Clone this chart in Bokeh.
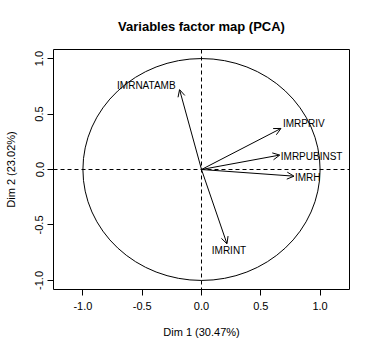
from bokeh.plotting import figure
from bokeh.models import (ColumnDataSource, Arrow, OpenHead, Span, FixedTicker,
                          Range1d)
from bokeh.core.properties import value
from bokeh.embed import file_html
from bokeh.resources import INLINE

# ---- data ----
variables = ["IMRNATAMB", "IMRPRIV", "IMRPUBINST", "IMRH", "IMRINT"]
dim1 = [-0.185, 0.67, 0.66, 0.78, 0.215]
dim2 = [0.72, 0.37, 0.13, -0.06, -0.67]
tick_values = [-1.0, -0.5, 0.0, 0.5, 1.0]
tick_labels = ["-1.0", "-0.5", "0.0", "0.5", "1.0"]
title_text = "Variables factor map (PCA)"
xlabel = "Dim 1 (30.47%)"
ylabel = "Dim 2 (23.02%)"

# label placement style (per variable)
label_align = {"IMRNATAMB": "right", "IMRPRIV": "left", "IMRPUBINST": "left",
               "IMRH": "left", "IMRINT": "center"}
label_dx = {"IMRNATAMB": -4, "IMRPRIV": 2, "IMRPUBINST": 1, "IMRH": 1, "IMRINT": 2}
label_dy = {"IMRNATAMB": -4, "IMRPRIV": -5, "IMRPUBINST": 1, "IMRH": 1, "IMRINT": 7}

FONT = "Liberation Sans"

src = ColumnDataSource(dict(
    name=variables, x=dim1, y=dim2,
    align=[label_align[v] for v in variables],
    dx=[label_dx[v] for v in variables],
    dy=[label_dy[v] for v in variables],
))

p = figure(width=381, height=357, output_backend="svg", toolbar_location=None,
           x_range=Range1d(-1.248, 1.248), y_range=Range1d(-1.0816, 1.0816),
           min_border_left=53, min_border_right=32, min_border_top=49,
           min_border_bottom=68)
p.background_fill_color = "white"
p.border_fill_color = "white"
p.outline_line_color = "black"
p.outline_line_width = 1
p.xgrid.visible = False
p.ygrid.visible = False

p.title.text = title_text
p.title.align = "center"
p.title.text_font = FONT
p.title.text_font_size = "13px"
p.title.text_font_style = "bold"
p.title.text_color = "black"
p.title.standoff = 31

for ax, lab in ((p.xaxis[0], xlabel), (p.yaxis[0], ylabel)):
    ax.ticker = FixedTicker(ticks=tick_values)
    ax.major_label_overrides = {t: l for t, l in zip(tick_values, tick_labels)}
    ax.minor_tick_line_color = None
    ax.axis_line_color = None
    ax.major_tick_out = 6
    ax.major_tick_in = 0
    ax.major_tick_line_color = "black"
    ax.major_label_text_font = FONT
    ax.major_label_text_font_size = "11px"
    ax.major_label_text_color = "black"
    ax.axis_label = lab
    ax.axis_label_text_font = FONT
    ax.axis_label_text_font_size = "11px"
    ax.axis_label_text_font_style = "normal"
    ax.axis_label_text_color = "black"

p.xaxis.major_label_standoff = 6
p.xaxis.axis_label_standoff = 13
p.yaxis.major_label_orientation = "vertical"
p.yaxis.major_label_standoff = 4
p.yaxis.axis_label_standoff = 16

# dashed axes through the origin
p.add_layout(Span(location=0, dimension="height", line_color="black",
                  line_dash="4 3", line_width=1))
p.add_layout(Span(location=0, dimension="width", line_color="black",
                  line_dash="4 3", line_width=1))

# correlation circle (unit circle in data units)
p.ellipse(x=0, y=0, width=2, height=2, fill_color=None, line_color="black",
          line_width=1)

# arrows
p.add_layout(Arrow(end=OpenHead(size=7, line_color="black", line_width=1),
                   x_start=0, y_start=0, x_end="x", y_end="y", source=src,
                   line_color="black", line_width=1))

# labels
p.text(x="x", y="y", text="name", source=src, text_align="align",
       text_baseline="middle", x_offset="dx", y_offset="dy",
       text_font=value(FONT), text_font_size="10px", text_color="black")

open("out.html", "w").write(file_html(p, INLINE))
